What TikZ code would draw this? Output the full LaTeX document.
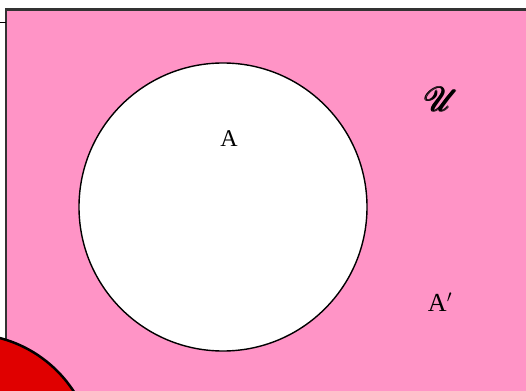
\documentclass[tikz,border=0pt]{standalone}
\usepackage{amsmath}
\usepackage{graphicx}
\usepackage{fontspec}
\setmainfont{Liberation Serif}
\usepackage{mathrsfs}
\definecolor{rosa}{RGB}{255,148,198}
\definecolor{rosso}{RGB}{224,0,0}
\tikzset{
  insieme/.style={circle, draw=black, line width=1.4pt, fill=white, minimum size=288pt, inner sep=0pt},
  etichetta/.style={font=\fontsize{24}{24}\selectfont, inner sep=0pt}
}
\begin{document}
\begin{tikzpicture}[x=1pt,y=-1pt]

  \useasboundingbox (0,0) rectangle (526,390);
  \clip (0,0) rectangle (526,390);

  % --- universo (rettangolo rosa) ---
  \draw[fill=rosa, draw=black!80, line width=2.2pt] (6,9.5) rectangle (540,400);
  \draw[line width=1pt] (0,23) -- (6,23);

  % --- insieme A ---
  \node[insieme] (A) at (223,207) {};
  \node[etichetta] (lA) at (229,139) {A};

  % --- etichette U e A' ---
  \node[etichetta] (lU) at (442,99) {\scalebox{1.35}{$\pmb{\mathscr{U}}$}};
  \node[etichetta, font=\fontsize{26}{26}\selectfont] (lAc) at (440,302) {A$'$};

  % --- cerchio rosso (in basso a sinistra) ---
  \draw[fill=rosso, line width=2.5pt] (-32,460) circle (126);

\end{tikzpicture}
\end{document}
